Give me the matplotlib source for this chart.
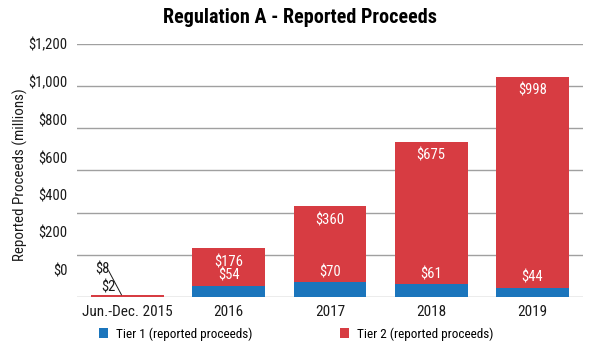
import matplotlib
matplotlib.use('Agg')
import matplotlib.pyplot as plt
import numpy as np

periods = ['Jun.-Dec. 2015', '2016', '2017', '2018', '2019']
tier1 = [2, 54, 70, 61, 44]
tier2 = [8, 176, 360, 675, 998]

grid_values = [0, 200, 400, 600, 800, 1000, 1200]
# the original labels sit off the gridlines; keep them where they were drawn
label_pos = [128, 306, 483, 660, 838, 1020, 1200]
label_text = ['$0', '$200', '$400', '$600', '$800', '$1,000', '$1,200']

plt.rcParams['font.family'] = ['Roboto Condensed', 'Liberation Sans Narrow', 'Roboto', 'DejaVu Sans']

blue = '#1b75bc'
red = '#d73c42'
txt = '#1a1a1a'

fig = plt.figure(figsize=(6, 3.5), dpi=100)
ax = fig.add_axes([0.1283, 0.1514, 0.8434, 0.7243])

x = np.arange(len(periods))
w = 0.72

for g in grid_values:
    ax.axhline(g, color='#a0a0a0', linewidth=1, zorder=0)

ax.bar(x, tier1, width=w, color=blue, zorder=2, label='Tier 1 (reported proceeds)')
ax.bar(x, tier2, width=w, bottom=tier1, color=red, zorder=2, label='Tier 2 (reported proceeds)')

ax.set_xlim(-0.5, len(periods) - 0.5)
ax.set_ylim(0, 1200)

totals = [a + b for a, b in zip(tier1, tier2)]
for i in range(1, len(periods)):
    ax.annotate(f'${tier2[i]}', xy=(x[i], totals[i]), xytext=(0, -10),
                textcoords='offset points', ha='center', va='center',
                color='white', fontsize=10.5, zorder=3)
    ax.annotate(f'${tier1[i]}', xy=(x[i], tier1[i]), xytext=(0, 7),
                textcoords='offset points', ha='center', va='center',
                color='white', fontsize=10.5, zorder=3)

# first period is too small for inside labels
ax.annotate(f'${tier2[0]}', xy=(x[0] - 0.06, totals[0]), xytext=(-14, 18.5),
            textcoords='offset points', ha='center', va='center',
            color=txt, fontsize=10.5,
            arrowprops=dict(arrowstyle='-', color=txt, lw=0.7, patchA=None,
                            relpos=(0.95, 0.4), shrinkA=0, shrinkB=0))
ax.annotate(f'${tier1[0]}', xy=(x[0], totals[0]), xytext=(-14, 5),
            textcoords='offset points', ha='center', va='center',
            color=txt, fontsize=10.5)

ax.set_xticks(x)
ax.set_xticklabels(periods, fontsize=11, color=txt)
ax.set_yticks(label_pos)
ax.set_yticklabels(label_text, fontsize=10.5, color=txt)
ax.tick_params(axis='both', length=0)
ax.tick_params(axis='y', pad=7)
ax.tick_params(axis='x', pad=6)

for s in ax.spines.values():
    s.set_visible(False)

fig.text(0.034, 0.5, 'Reported Proceeds (millions)', rotation=90, ha='center',
         va='center', fontsize=10.8, color=txt)
fig.suptitle('Regulation A - Reported Proceeds', fontsize=14.5, fontweight='bold',
             y=0.95, x=0.5, va='center')

fig.legend(loc='center left', bbox_to_anchor=(0.165, 0.046), ncol=2, frameon=False,
           fontsize=9.5, handlelength=0.7, handleheight=0.7, columnspacing=6.6,
           handletextpad=0.6, borderpad=0, borderaxespad=0)

fig.savefig('out.png', dpi=100)
